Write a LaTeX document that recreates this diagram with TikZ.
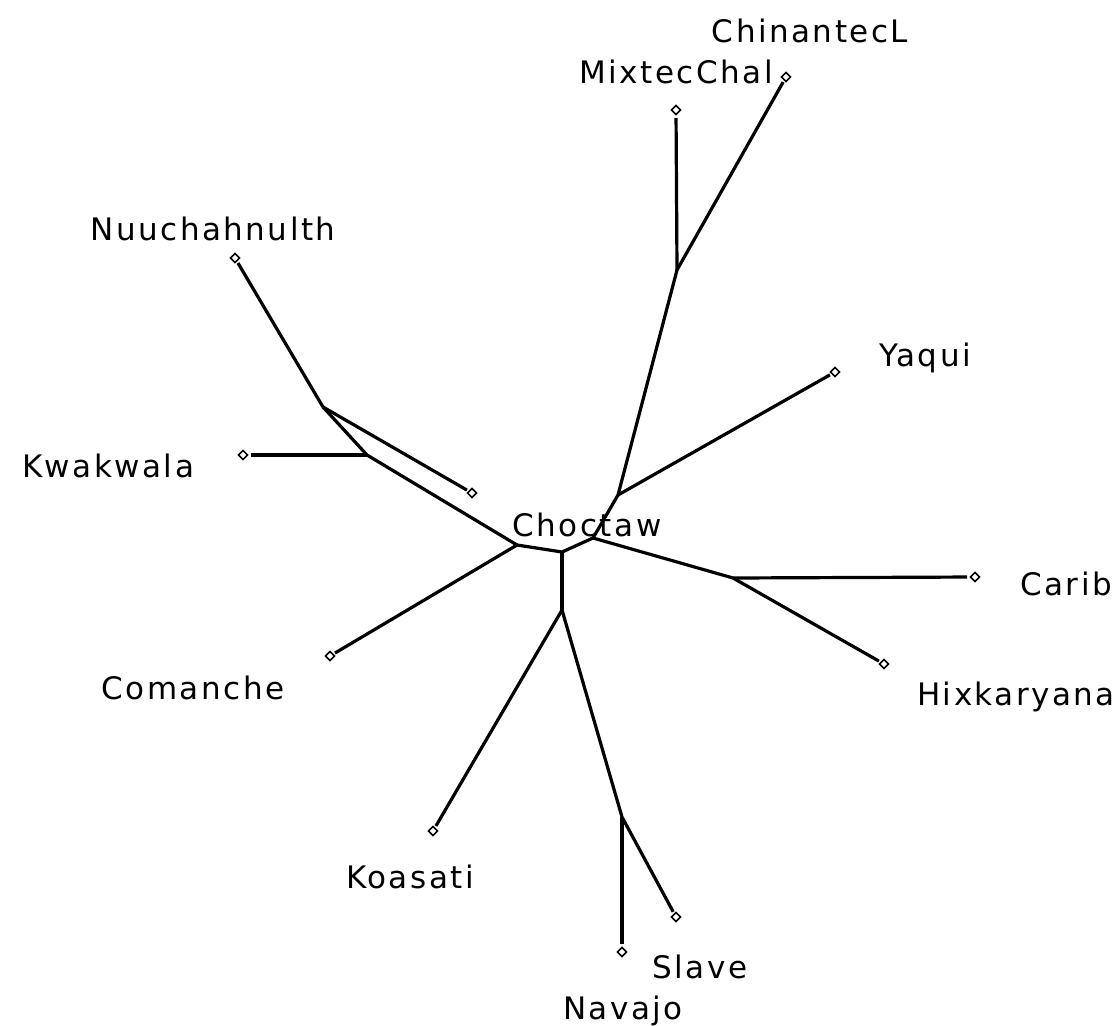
\documentclass[tikz,border=0pt]{standalone}
\usepackage{fontspec}
\setmainfont{DejaVu Sans}[LetterSpace=8]
\usetikzlibrary{shapes.geometric}
\tikzset{
  branch/.style={line width=3.2pt},
  leafdot/.style={diamond, draw, line width=1.6pt, minimum size=11pt, inner sep=0pt, outer sep=2.5pt, fill=white},
  lbl/.style={anchor=base, inner sep=0pt, font=\fontsize{31}{36}\selectfont}
}
\begin{document}
\begin{tikzpicture}[x=1pt, y=-1pt]
\fill[white] (0,0) rectangle (1118,1025);
\useasboundingbox (0,0) rectangle (1118,1025);
% internal nodes
\coordinate (A) at (517,545);
\coordinate (B) at (562,552);
\coordinate (C) at (593,538);
\coordinate (D) at (618,495);
\coordinate (E) at (677,270);
\coordinate (F) at (367,455);
\coordinate (G) at (323,407);
\coordinate (H) at (562,610);
\coordinate (I) at (622,817);
\coordinate (J) at (733,578);
% leaves
\node[leafdot] (chin) at (786,77) {};
\node[leafdot] (mix) at (676,110) {};
\node[leafdot] (nuu) at (235,258) {};
\node[leafdot] (yaq) at (835,372) {};
\node[leafdot] (kwa) at (243,455) {};
\node[leafdot] (cho) at (472,493) {};
\node[leafdot] (com) at (330,656) {};
\node[leafdot] (car) at (975,577) {};
\node[leafdot] (hix) at (884,664) {};
\node[leafdot] (koa) at (433,831) {};
\node[leafdot] (sla) at (676,917) {};
\node[leafdot] (nav) at (622,952) {};
% branches
\draw[branch] (A) -- (B) -- (C) -- (D) -- (E);
\draw[branch] (E) -- (mix);
\draw[branch] (E) -- (chin);
\draw[branch] (D) -- (yaq);
\draw[branch] (C) -- (J);
\draw[branch] (J) -- (car);
\draw[branch] (J) -- (hix);
\draw[branch] (B) -- (H);
\draw[branch] (H) -- (koa);
\draw[branch] (H) -- (I);
\draw[branch] (I) -- (nav);
\draw[branch] (I) -- (sla);
\draw[branch] (A) -- (com);
\draw[branch] (A) -- (F) -- (G);
\draw[branch] (F) -- (kwa);
\draw[branch] (G) -- (nuu);
\draw[branch] (G) -- (cho);
% labels
\node[lbl] (tchin) at (810,43) {ChinantecL};
\node[lbl] (tmix) at (676,83) {MixtecChal};
\node[lbl] (tnuu) at (213,240) {Nuuchahnulth};
\node[lbl] (tyaq) at (925,366) {Yaqui};
\node[lbl] (tkwa) at (108,477) {Kwakwala};
\node[lbl] (tcho) at (587,536) {Choctaw};
\node[lbl] (tcar) at (1066,595) {Carib};
\node[lbl] (thix) at (1016,705) {Hixkaryana};
\node[lbl] (tcom) at (193,699) {Comanche};
\node[lbl] (tkoa) at (410,888) {Koasati};
\node[lbl] (tsla) at (700,978) {Slave};
\node[lbl] (tnav) at (623,1019) {Navajo};
\end{tikzpicture}
\end{document}
